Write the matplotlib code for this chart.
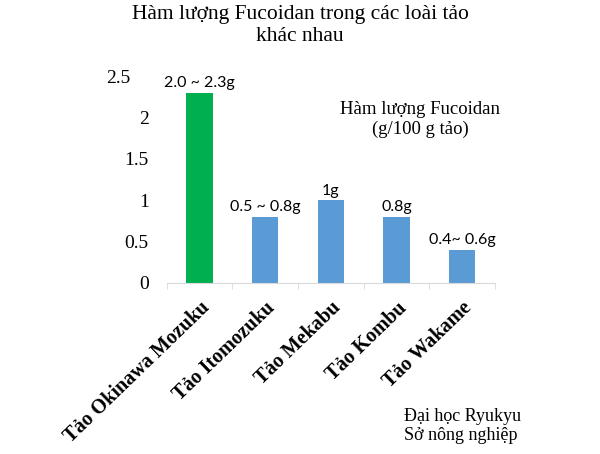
import matplotlib.pyplot as plt

# data
categories = ['Tảo Okinawa Mozuku', 'Tảo Itomozuku', 'Tảo Mekabu', 'Tảo Kombu', 'Tảo Wakame']
values = [2.3, 0.8, 1.0, 0.8, 0.4]
bar_labels = ['2.0 ~ 2.3g', '0.5 ~ 0.8g', '1g', '0.8g', '0.4~ 0.6g']
colors = ['#00B050', '#5B9BD5', '#5B9BD5', '#5B9BD5', '#5B9BD5']
yticks = [0, 0.5, 1, 1.5, 2, 2.5]

serif = 'Liberation Serif'
sans = 'Lato'

fig = plt.figure(figsize=(6, 4.54), dpi=100)
ax = fig.add_axes([0.278, 0.377, 0.547, 0.455])

x = range(len(categories))
ax.bar(x, values, width=0.4, color=colors)
for i, (v, lab) in enumerate(zip(values, bar_labels)):
    ax.text(i, v + 0.03, lab, ha='center', va='bottom', fontsize=11.5, family=sans)

ax.set_xlim(-0.5, len(categories) - 0.5)
ax.set_ylim(0, 2.5)
ax.set_yticks(yticks)
ax.set_yticklabels(['0', '0.5', '1', '1.5', '2', '2.5'], family=serif, fontsize=14)
# the top label sits a little to the left in the original
ax.get_yticklabels()[-1].set_x(-0.055)
ax.set_xticks(x)
ax.set_xticklabels(categories, rotation=44, ha='right', rotation_mode='anchor',
                   family=serif, fontsize=14.5, fontweight='bold')
ax.set_xticks([i + 0.5 for i in range(-1, len(categories))], minor=True)
ax.tick_params(axis='x', which='major', length=0, pad=11)
ax.tick_params(axis='x', which='minor', length=4, color='#d9d9d9')
ax.tick_params(axis='y', length=0, pad=13)
for s in ['top', 'right', 'left']:
    ax.spines[s].set_visible(False)
ax.spines['bottom'].set_color('#d9d9d9')

fig.text(0.5, 0.988, 'Hàm lượng Fucoidan trong các loài tảo\nkhác nhau', ha='center', va='top',
         family=serif, fontsize=15.5, linespacing=1.2)
fig.text(0.70, 0.778, 'Hàm lượng Fucoidan\n(g/100 g tảo)', ha='center', va='top',
         family=serif, fontsize=13.5, linespacing=1.2)
fig.text(0.673, 0.102, 'Đại học Ryukyu\nSở nông nghiệp', ha='left', va='top',
         family=serif, fontsize=13, linespacing=1.2)

fig.savefig('out.png', dpi=100)
